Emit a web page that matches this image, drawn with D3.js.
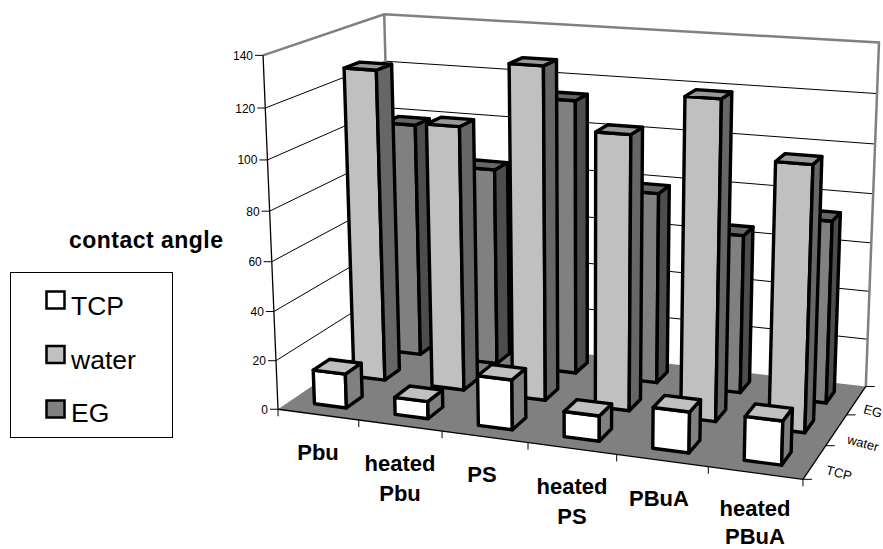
<!DOCTYPE html>
<html><head><meta charset="utf-8">
<script src="https://cdnjs.cloudflare.com/ajax/libs/d3/7.8.5/d3.min.js"></script>
<style>html,body{margin:0;background:#fff}svg{display:block}text{font-family:"Liberation Sans",Arial,sans-serif;fill:#000}</style>
</head><body><svg id="c" width="883" height="549"></svg>
<script>
const categories=["Pbu","heated Pbu","PS","heated PS","PBuA","heated PBuA"];
const seriesNames=["TCP","water","EG"];
const tcpValues=[14,7,20,10,16,17];
const waterValues=[128,108,134,110,126,104];
const egValues=[99,83,114,79,65,74];
const categoryLabels=[["Pbu"],["heated","Pbu"],["PS"],["heated","PS"],["PBuA"],["heated","PBuA"]];
const valueDomain=[0,140];

// camera calibration: unit-cube point -> screen point
const calib=[
[0,0,0,278,409],[1,0,0,803,478],[0,1,0,263,55],[1,0,1,865,386],[0,1,1,384,14],[1,1,1,879,43],
[0,20/140,0,276.7,360.7],[0,40/140,0,275,311.7],[0,100/140,0,266.7,160],[0,120/140,0,265.7,108],
[1/6,0,0,358,420],[2/6,0,0,441.7,431.7],[3/6,0,0,527.7,443],[4/6,0,0,616.3,455],[5/6,0,0,708,466.7],
[1,0,1/3,826,446],[1,0,2/3,848,415]];
function solve(A,b){const n=b.length;A=A.map((r,i)=>[...r,b[i]]);
 for(let i=0;i<n;i++){let p=i;for(let k=i+1;k<n;k++)if(Math.abs(A[k][i])>Math.abs(A[p][i]))p=k;[A[i],A[p]]=[A[p],A[i]];
  for(let k=0;k<n;k++)if(k!==i){const f=A[k][i]/A[i][i];for(let j=i;j<=n;j++)A[k][j]-=f*A[i][j];}}
 return A.map((r,i)=>r[n]/r[i]);}
const rows=[],rhs=[];
calib.forEach(([x,y,z,u,v])=>{u/=500;v/=500;
 rows.push([1,x,y,z,0,0,0,0,-u*x,-u*y,-u*z]);rhs.push(u);
 rows.push([0,0,0,0,1,x,y,z,-v*x,-v*y,-v*z]);rhs.push(v);});
const N=d3.range(11).map(i=>d3.range(11).map(j=>d3.sum(rows,r=>r[i]*r[j])));
const R=d3.range(11).map(i=>d3.sum(rows,(r,k)=>r[i]*rhs[k]));
const m=solve(N,R);
function project(x,y,z){const w=1+m[8]*x+m[9]*y+m[10]*z;
 return [500*(m[0]+m[1]*x+m[2]*y+m[3]*z)/w,500*(m[4]+m[5]*x+m[6]*y+m[7]*z)/w];}

const xScale=d3.scaleBand().domain(categories).range([0,1]).paddingInner(0.6).paddingOuter(0.3);
const zScale=d3.scaleBand().domain(seriesNames).range([0,1]).paddingInner(0.6).paddingOuter(0.3);
const yScale=d3.scaleLinear().domain(valueDomain).range([0,1]);
const line=d3.line();
const svg=d3.select("#c");
const poly=pts=>line(pts.map(p=>project(...p)))+"Z";
const seg=(a,b,col,w)=>svg.append("path").attr("d",line([project(...a),project(...b)])).attr("stroke",col).attr("stroke-width",w).attr("fill","none");

// walls
svg.append("path").attr("d",poly([[0,0,0],[0,1,0],[0,1,1],[0,0,1]])).attr("fill","#fff");
svg.append("path").attr("d",poly([[0,0,1],[0,1,1],[1,1,1],[1,0,1]])).attr("fill","#fff");
const ticks=yScale.ticks(7);
ticks.filter(t=>t>0&&t<140).forEach(t=>{const y=yScale(t);
 svg.append("path").attr("d",line([[0,y,0],[0,y,1],[1,y,1]].map(p=>project(...p)))).attr("fill","none").attr("stroke","#000").attr("stroke-width",1);});
// floor
svg.append("path").attr("d",poly([[0,0,0],[1,0,0],[1,0,1],[0,0,1]])).attr("fill","#808080");
// wall frame
svg.append("path").attr("d",line([[0,1,0],[0,1,1],[1,1,1],[1,0,1]].map(p=>project(...p)))).attr("fill","none").attr("stroke","#808080").attr("stroke-width",2.5);
seg([0,1,1],[0,0,1],"#808080",2.5);
// axes
seg([0,0,0],[0,1,0],"#000",1.3);
seg([0,0,0],[1,0,0],"#000",1.3);
seg([1,0,0],[1,0,1],"#000",1.3);
ticks.forEach(t=>{const p=project(0,yScale(t),0);
 svg.append("line").attr("x1",p[0]-8).attr("x2",p[0]).attr("y1",p[1]).attr("y2",p[1]).attr("stroke","#000");
 svg.append("text").attr("x",p[0]-10).attr("y",p[1]+4.5).attr("text-anchor","end").attr("font-size",12).text(t);});
d3.range(0,7).forEach(i=>{const p=project(i/6,0,0);
 svg.append("line").attr("x1",p[0]).attr("x2",p[0]).attr("y1",p[1]).attr("y2",p[1]+7).attr("stroke","#000");});
d3.range(0,4).forEach(i=>{const p=project(1,0,i/3);
 svg.append("line").attr("x1",p[0]).attr("x2",p[0]+9).attr("y1",p[1]).attr("y2",p[1]).attr("stroke","#000");});

// bars
const faces={TCP:{front:"#ffffff",top:"#c0c0c0",side:"#808080"},water:{front:"#c0c0c0",top:"#999999",side:"#666666"},EG:{front:"#808080",top:"#666666",side:"#4d4d4d"}};
const seriesValues={TCP:tcpValues,water:waterValues,EG:egValues};
[...seriesNames].reverse().forEach(s=>{
 const g=svg.append("g");
 categories.forEach((c,i)=>{
  const x0=xScale(c),x1=x0+xScale.bandwidth(),z0=zScale(s),z1=z0+zScale.bandwidth(),y=yScale(seriesValues[s][i]);
  const f=[[[x0,0,z0],[x1,0,z0],[x1,y,z0],[x0,y,z0]],[[x1,0,z0],[x1,0,z1],[x1,y,z1],[x1,y,z0]],[[x0,y,z0],[x1,y,z0],[x1,y,z1],[x0,y,z1]]];
  g.selectAll(null).data([faces[s].front,faces[s].side,faces[s].top]).enter().append("path")
   .attr("d",(d,k)=>poly(f[k])).attr("fill",d=>d).attr("stroke","#000").attr("stroke-width",3.4).attr("stroke-linejoin","round");
 });
});

// category labels
const labelPos=[[318,460],[400,471],[482,481.5],[572,494],[659,505.5],[755,516]];
const labelGap=[0,30,0,30,0,28];
categoryLabels.forEach((l,i)=>l.forEach((t,k)=>svg.append("text").attr("x",labelPos[i][0]).attr("y",labelPos[i][1]+k*labelGap[i]).attr("text-anchor","middle").attr("font-size",22).attr("font-weight","bold").text(t)));
// depth labels
[[839,473],[863,443],[873,411]].forEach((p,i)=>svg.append("text").attr("transform",`translate(${p[0]},${p[1]}) rotate(15)`).attr("text-anchor","middle").attr("dy","0.35em").attr("font-size",13).text(seriesNames[i]));
// title
svg.append("text").attr("x",69).attr("y",248).attr("font-size",23).attr("font-weight","bold").attr("textLength",154).text("contact angle");
// legend
svg.append("rect").attr("x",10.5).attr("y",272.5).attr("width",162).attr("height",165).attr("fill","#fff").attr("stroke","#000");
seriesNames.forEach((s,i)=>{
 svg.append("rect").attr("x",46.5).attr("y",291.5+i*54.5).attr("width",18).attr("height",17).attr("fill",faces[s].front).attr("stroke","#000").attr("stroke-width",2.5);
 svg.append("text").attr("x",71).attr("y",315+i*53.5).attr("font-size",26.5).text(s);
});
</script></body></html>
